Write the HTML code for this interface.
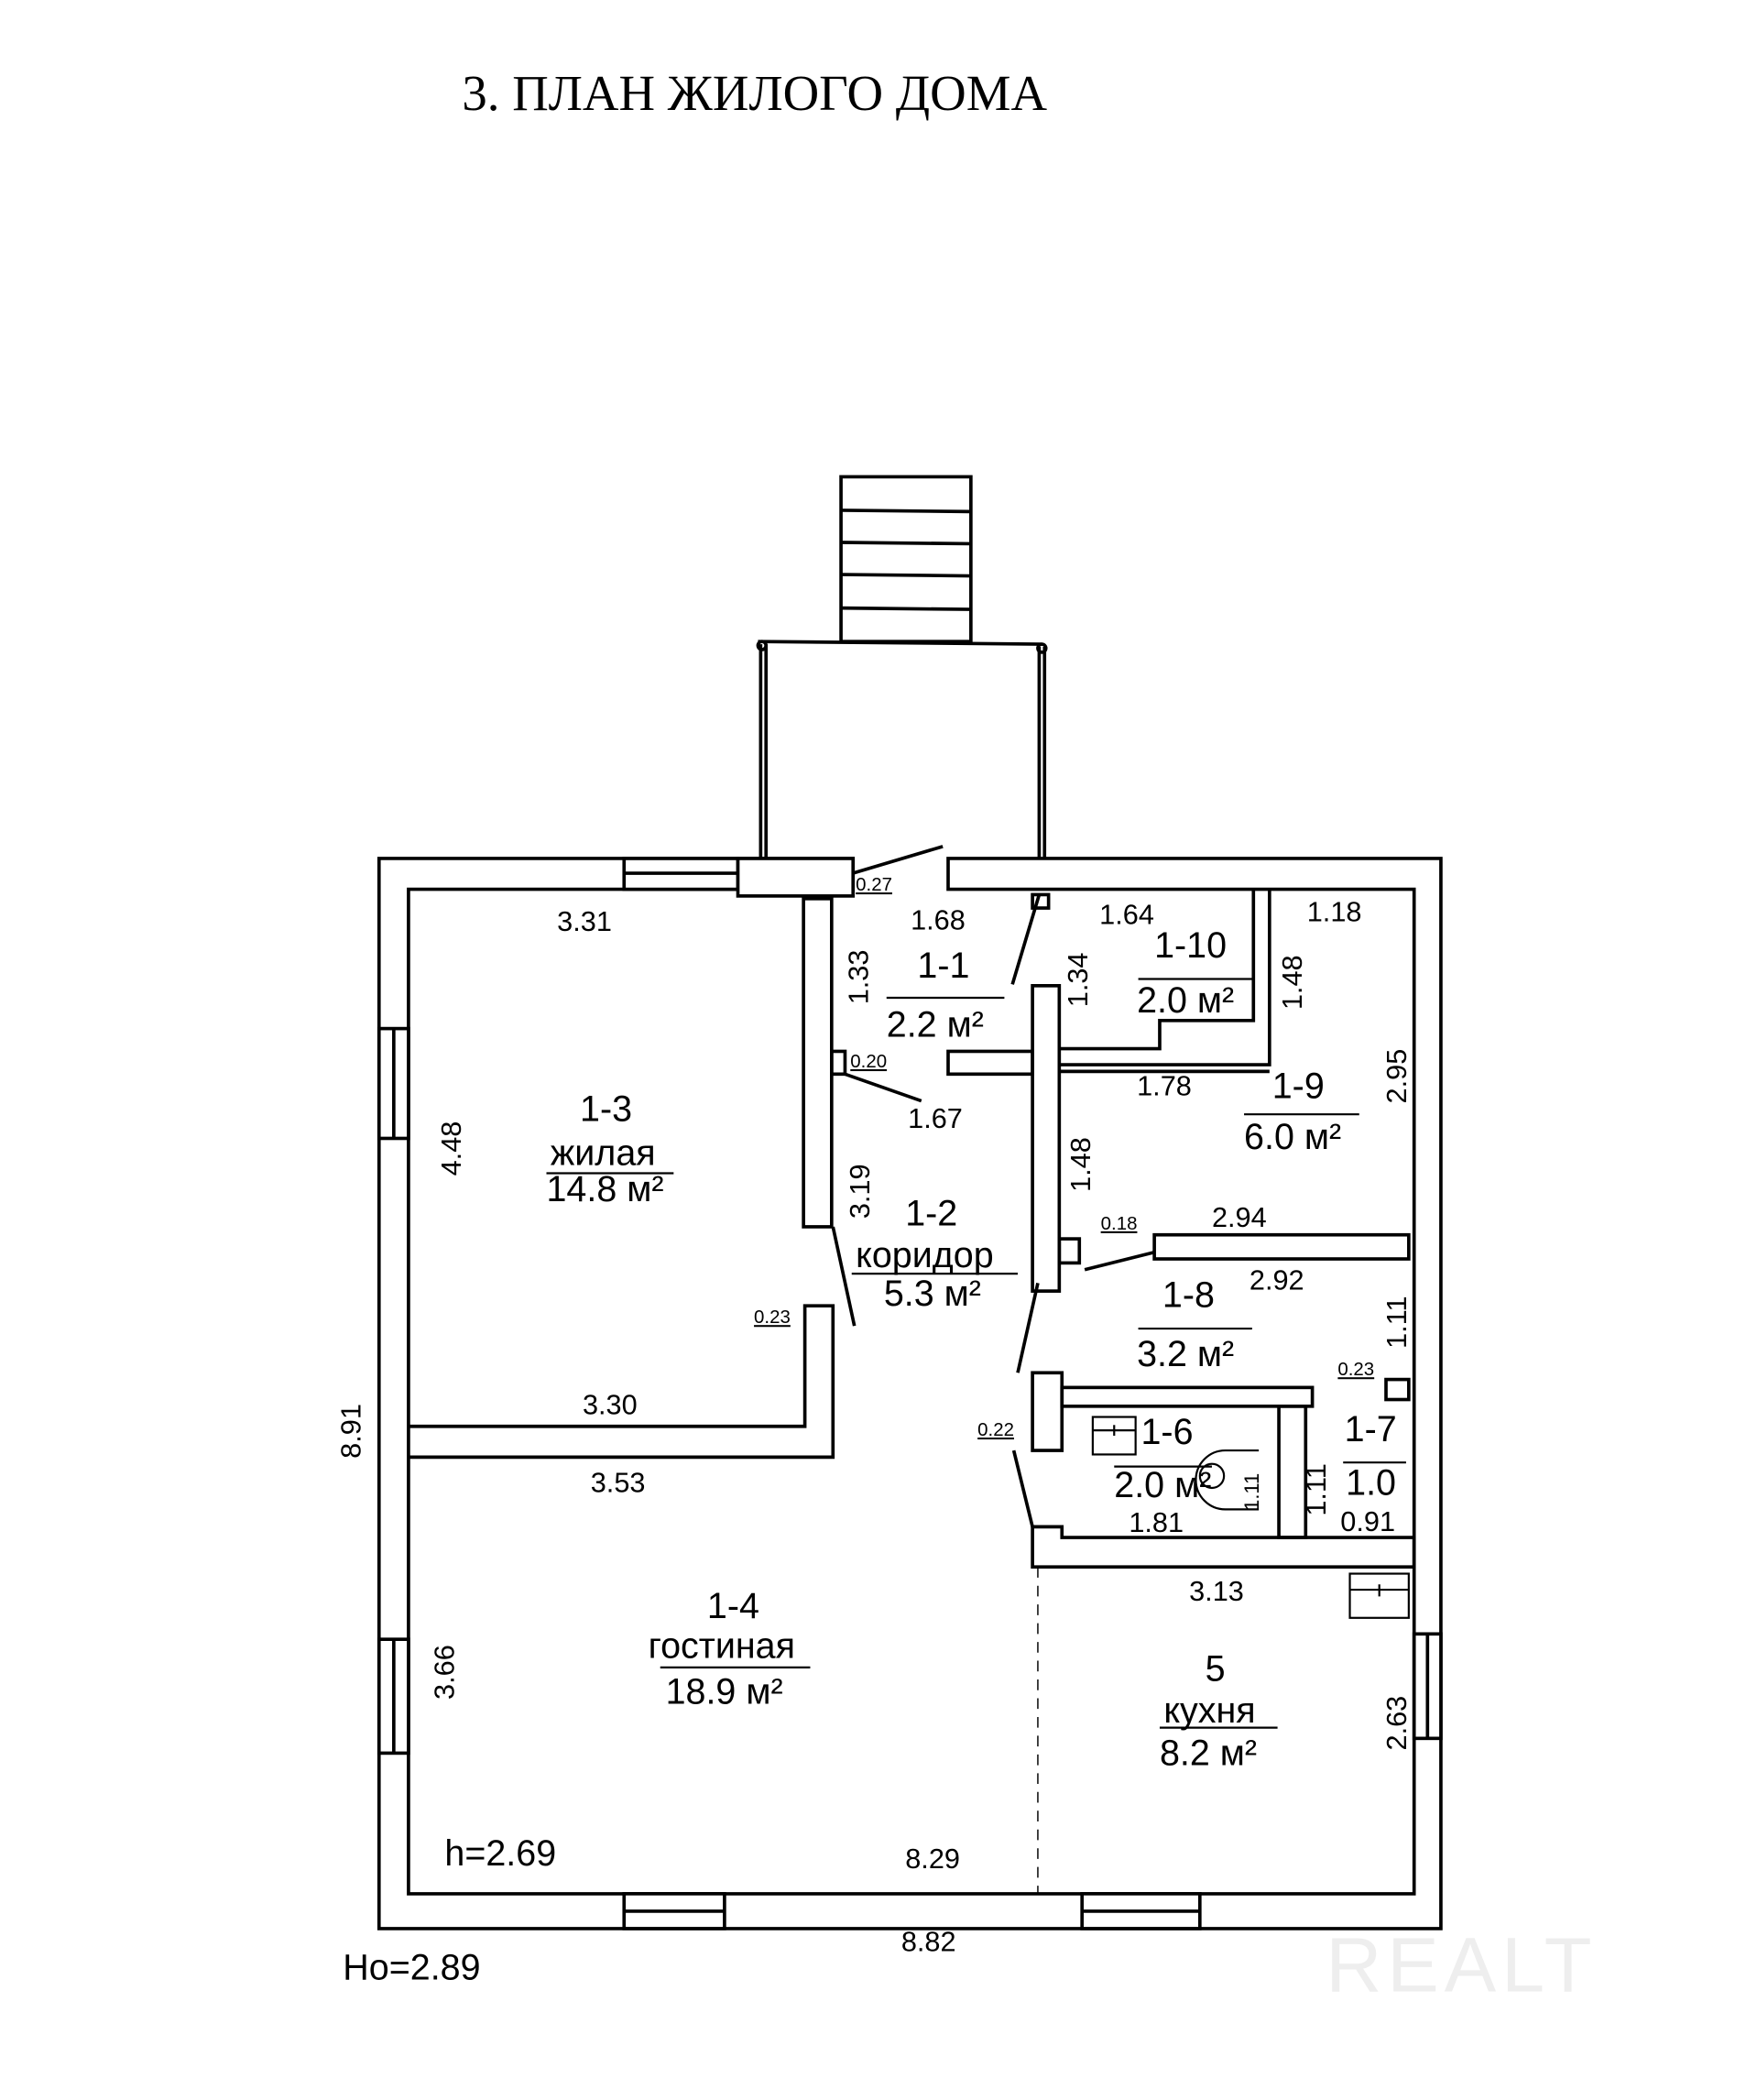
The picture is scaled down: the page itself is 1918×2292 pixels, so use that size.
<!DOCTYPE html>
<html><head><meta charset="utf-8"><style>
html,body{margin:0;padding:0;background:#fff;}
svg{display:block;}
text{font-family:"Liberation Sans",sans-serif;fill:#000;}
.d{font-size:21px;}
.r{font-size:27px;}
.s{font-size:14px;text-decoration:underline;}
</style></head><body>
<svg width="1918" height="2292" viewBox="0 0 1312 1568" xmlns="http://www.w3.org/2000/svg">
<rect width="1312" height="1568" fill="#fff"/>
<text x="345" y="82" style="font-family:'Liberation Serif',serif;font-size:37.5px">3. ПЛАН ЖИЛОГО ДОМА</text>
<g fill="none" stroke="#000" stroke-width="2.5">
<rect x="628" y="356" width="97" height="123"/>
<line x1="628" y1="381" x2="725" y2="382"/><line x1="628" y1="405" x2="725" y2="406"/><line x1="628" y1="429" x2="725" y2="430"/><line x1="628" y1="454" x2="725" y2="455"/>
<line x1="566" y1="479" x2="778" y2="481"/>
<line x1="568" y1="481" x2="568" y2="641"/><line x1="572" y1="481" x2="572" y2="641"/>
<line x1="776" y1="483" x2="776" y2="641"/><line x1="780" y1="483" x2="780" y2="641"/>
<circle cx="569" cy="482" r="3"/><circle cx="778" cy="484" r="3"/>
<path d="M637,641 H283 V1440 H1076 V641 H708 V664 H1056 V1414 H305 V664 H637 Z"/>
<rect x="466" y="641" width="85" height="23" fill="#fff"/><line x1="466" y1="652" x2="551" y2="652"/>
<rect x="551" y="641" width="86" height="28" fill="#fff"/>
<rect x="283" y="768" width="22" height="82" fill="#fff"/><line x1="294" y1="768" x2="294" y2="850"/>
<rect x="283" y="1224" width="22" height="85" fill="#fff"/><line x1="294" y1="1224" x2="294" y2="1309"/>
<rect x="466" y="1414" width="75" height="26" fill="#fff"/><line x1="466" y1="1427" x2="541" y2="1427"/>
<rect x="808" y="1414" width="88" height="26" fill="#fff"/><line x1="808" y1="1427" x2="896" y2="1427"/>
<rect x="1056" y="1220" width="20" height="78" fill="#fff"/><line x1="1066" y1="1220" x2="1066" y2="1298"/>
<rect x="600" y="671" width="21" height="245"/>
<rect x="621" y="785" width="10" height="17"/>
<rect x="708" y="785" width="63" height="17"/>
<rect x="771" y="736" width="20" height="228"/>
<rect x="771" y="668" width="12" height="10"/>
<path d="M791,783 H866 V762 H936 V664 M948,664 V795 H791"/>
<line x1="791" y1="800" x2="948" y2="800"/>
<rect x="862" y="922" width="190" height="18"/>
<rect x="791" y="925" width="15" height="18"/>
<rect x="771" y="1025" width="22" height="58"/>
<rect x="793" y="1036" width="187" height="14"/>
<rect x="955" y="1050" width="20" height="98"/>
<rect x="1035" y="1030" width="17" height="15"/>
<path d="M771,1140 H793 V1148 H1056 V1170 H771 Z"/>
<path d="M305,1065 H601 V975 H622 V1088 H305"/>
<line x1="637" y1="652" x2="704" y2="632"/>
<line x1="631" y1="802" x2="688" y2="822"/>
<line x1="622" y1="916" x2="638" y2="990"/>
<line x1="756" y1="735" x2="776" y2="668"/>
<line x1="760" y1="1025" x2="775" y2="958"/>
<line x1="810" y1="948" x2="862" y2="935"/>
<line x1="757" y1="1083" x2="771" y2="1140"/>
<line x1="775" y1="1170" x2="775" y2="1414" stroke-width="1" stroke-dasharray="8,6"/>
<rect x="816" y="1058" width="32" height="28" stroke-width="1.5"/><line x1="816" y1="1068" x2="848" y2="1068" stroke-width="1.5"/><line x1="832" y1="1064" x2="832" y2="1072" stroke-width="1.5"/>
<rect x="1008" y="1175" width="44" height="33" stroke-width="1.5"/><line x1="1008" y1="1187" x2="1052" y2="1187" stroke-width="1.5"/><line x1="1030" y1="1183" x2="1030" y2="1192" stroke-width="1.5"/>
<path d="M940,1083 H915 A22,22 0 0 0 915,1127 H940" stroke-width="1.5"/><circle cx="905" cy="1102" r="9" stroke-width="1.5"/>
<g stroke-width="1.5">
<line x1="662" y1="745" x2="750" y2="745"/><line x1="850" y1="731" x2="935" y2="731"/>
<line x1="408" y1="876" x2="503" y2="876"/><line x1="636" y1="951" x2="760" y2="951"/>
<line x1="929" y1="832" x2="1015" y2="832"/><line x1="850" y1="992" x2="935" y2="992"/>
<line x1="832" y1="1095" x2="905" y2="1095"/><line x1="1003" y1="1092" x2="1050" y2="1092"/>
<line x1="493" y1="1245" x2="605" y2="1245"/><line x1="866" y1="1290" x2="954" y2="1290"/>
</g>
</g>
<text class="d" x="416" y="695">3.31</text>
<text class="d" x="680" y="694">1.68</text>
<text class="d" x="821" y="690">1.64</text>
<text class="d" x="976" y="688">1.18</text>
<text class="d" x="849" y="818">1.78</text>
<text class="d" x="678" y="842">1.67</text>
<text class="d" x="905" y="916">2.94</text>
<text class="d" x="933" y="963">2.92</text>
<text class="d" x="435" y="1056">3.30</text>
<text class="d" x="441" y="1114">3.53</text>
<text class="d" x="843" y="1144">1.81</text>
<text class="d" x="1001" y="1143">0.91</text>
<text class="d" x="888" y="1195">3.13</text>
<text class="d" x="676" y="1395">8.29</text>
<text class="d" x="673" y="1457">8.82</text>
<text class="s" x="639" y="665">0.27</text>
<text class="s" x="635" y="797">0.20</text>
<text class="s" x="822" y="918">0.18</text>
<text class="s" x="563" y="988">0.23</text>
<text class="s" x="999" y="1027">0.23</text>
<text class="s" x="730" y="1072">0.22</text>
<g class="d">
<text transform="translate(648,750) rotate(-90)">1.33</text>
<text transform="translate(812,752) rotate(-90)">1.34</text>
<text transform="translate(972,754) rotate(-90)">1.48</text>
<text transform="translate(1050,824) rotate(-90)">2.95</text>
<text transform="translate(344,878) rotate(-90)">4.48</text>
<text transform="translate(649,910) rotate(-90)">3.19</text>
<text transform="translate(814,890) rotate(-90)">1.48</text>
<text transform="translate(1050,1007) rotate(-90)">1.11</text>
<text transform="translate(990,1132) rotate(-90)">1.11</text>
<text transform="translate(940,1128) rotate(-90)" style="font-size:15px">1.11</text>
<text transform="translate(269,1089) rotate(-90)">8.91</text>
<text transform="translate(339,1269) rotate(-90)">3.66</text>
<text transform="translate(1050,1307) rotate(-90)">2.63</text>
</g>
<text class="r" x="685" y="730">1-1</text>
<text class="r" x="662" y="774">2.2 м²</text>
<text class="r" x="862" y="715">1-10</text>
<text class="r" x="849" y="756">2.0 м²</text>
<text class="r" x="433" y="837">1-3</text>
<text class="r" x="411" y="870">жилая</text>
<text class="r" x="408" y="897">14.8 м²</text>
<text class="r" x="950" y="820">1-9</text>
<text class="r" x="929" y="858">6.0 м²</text>
<text class="r" x="676" y="915">1-2</text>
<text class="r" x="639" y="946">коридор</text>
<text class="r" x="660" y="975">5.3 м²</text>
<text class="r" x="868" y="976">1-8</text>
<text class="r" x="849" y="1020">3.2 м²</text>
<text class="r" x="852" y="1078">1-6</text>
<text class="r" x="832" y="1118">2.0 м²</text>
<text class="r" x="1004" y="1076">1-7</text>
<text class="r" x="1005" y="1116">1.0</text>
<text class="r" x="528" y="1208">1-4</text>
<text class="r" x="484" y="1238">гостиная</text>
<text class="r" x="497" y="1272">18.9 м²</text>
<text class="r" x="900" y="1255">5</text>
<text class="r" x="869" y="1286">кухня</text>
<text class="r" x="866" y="1318">8.2 м²</text>
<text class="r" x="332" y="1393">h=2.69</text>
<text class="r" x="256" y="1478">Ho=2.89</text>
<text x="990" y="1487" style="font-size:58px;fill:#eeeeee;letter-spacing:4px">REALT</text>
</svg>
</body></html>
